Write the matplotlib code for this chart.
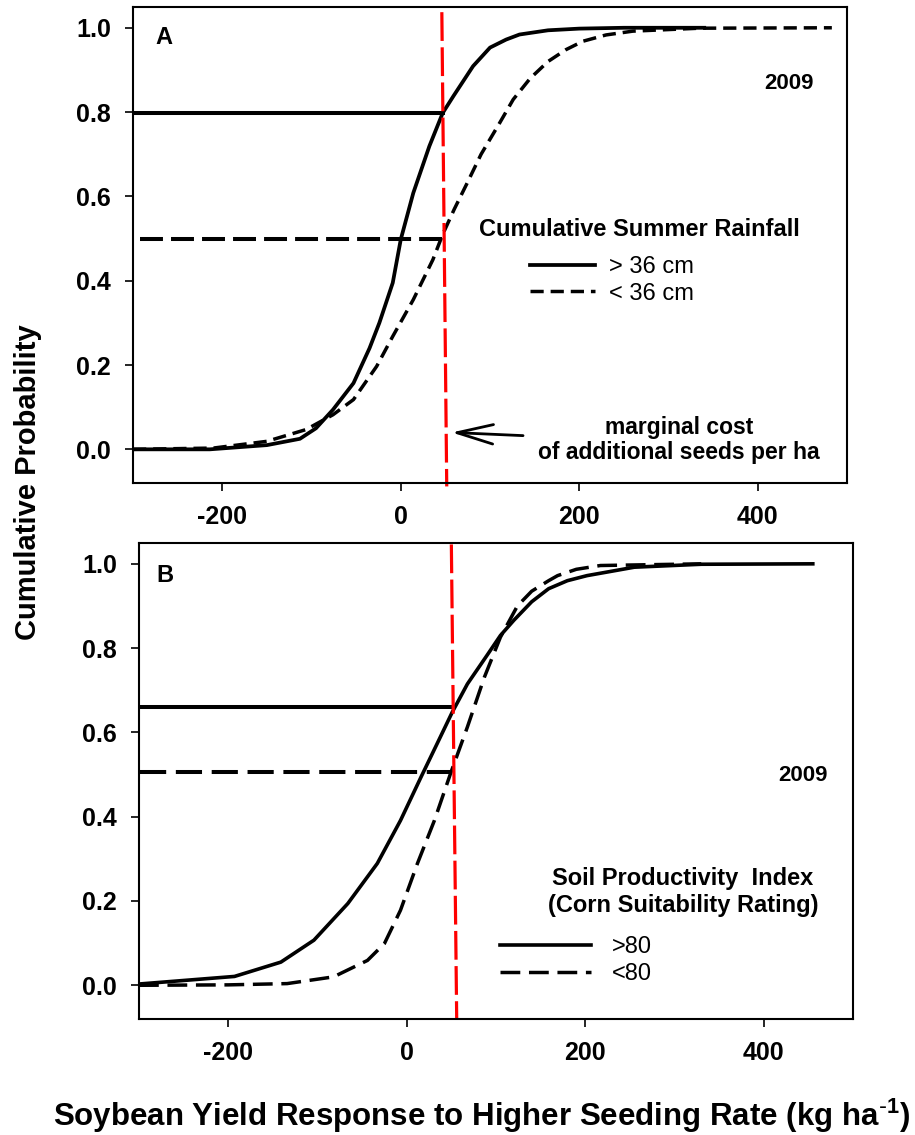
import matplotlib.pyplot as plt

plt.rcParams['font.family'] = ['Liberation Sans', 'DejaVu Sans']
plt.rcParams['mathtext.default'] = 'regular'

# ---- data ----
x_ticks = [-200, 0, 200, 400]
y_ticks = [0.0, 0.2, 0.4, 0.6, 0.8, 1.0]

# Panel A: cumulative summer rainfall
a_wet_x = [-300, -214, -150, -113, -95, -76, -53, -35, -24, -9, 0, 14, 32, 47, 59, 81, 100, 118, 133, 165, 200, 250, 340]
a_wet_y = [0.0, 0.0, 0.01, 0.025, 0.05, 0.094, 0.157, 0.24, 0.30, 0.395, 0.498, 0.608, 0.719, 0.798, 0.838, 0.909, 0.953, 0.972, 0.984, 0.994, 0.998, 1.0, 1.0]
a_dry_x = [-300, -210, -150, -106, -76, -53, -27, -9, 14, 36, 47, 60, 74, 90, 111, 126, 145, 165, 185, 204, 230, 260, 335, 483]
a_dry_y = [0.0, 0.003, 0.019, 0.047, 0.082, 0.118, 0.197, 0.268, 0.355, 0.45, 0.51, 0.57, 0.63, 0.70, 0.775, 0.83, 0.88, 0.92, 0.948, 0.968, 0.983, 0.992, 0.999, 1.0]
a_labels = ['> 36 cm', '< 36 cm']
a_ref_wet = ([-300, 47], [0.798, 0.798])
a_ref_dry = ([-292, 47], [0.50, 0.50])
a_cost = ([46, 51.5], [1.037, -0.088])

# Panel B: soil productivity index
b_high_x = [-300, -193, -141, -104, -66, -33, -7, 16, 34, 51, 68, 90, 105, 120, 140, 159, 180, 202, 255, 330, 455]
b_high_y = [0.003, 0.021, 0.055, 0.107, 0.194, 0.289, 0.391, 0.494, 0.573, 0.648, 0.715, 0.783, 0.83, 0.866, 0.91, 0.941, 0.96, 0.972, 0.992, 0.999, 1.0]
b_low_x = [-300, -200, -134, -82, -44, -25, -7, 12, 31, 49, 68, 87, 105, 124, 140, 159, 169, 190, 217, 330]
b_low_y = [0.0, 0.001, 0.004, 0.02, 0.059, 0.099, 0.178, 0.289, 0.391, 0.502, 0.613, 0.731, 0.826, 0.90, 0.935, 0.96, 0.972, 0.987, 0.996, 1.0]
b_labels = ['>80', '<80']
b_ref_high = ([-300, 51], [0.66, 0.66])
b_ref_low = ([-299, 49], [0.507, 0.507])
b_cost = ([50, 56], [1.046, -0.081])


def style_axis(ax):
    ax.set_xlim(-300, 500)
    ax.set_ylim(-0.08, 1.05)
    ax.set_xticks(x_ticks)
    ax.set_xticklabels([str(v) for v in x_ticks])
    ax.set_yticks(y_ticks)
    ax.set_yticklabels([f'{v:.1f}' for v in y_ticks])
    ax.tick_params(direction='out', length=6, width=1.2, labelsize=18, pad=10)
    for lab in ax.get_xticklabels() + ax.get_yticklabels():
        lab.set_fontweight('bold')
    for s in ax.spines.values():
        s.set_linewidth(1.5)


fig = plt.figure(figsize=(9.15, 11.35), dpi=100)
axA = fig.add_axes([0.1454, 0.5744, 0.7803, 0.4197])
axB = fig.add_axes([0.1519, 0.1022, 0.7803, 0.4196])

# ---- Panel A ----
axA.plot(*a_ref_wet, color='k', lw=2.9)
axA.plot(*a_ref_dry, color='k', lw=2.9, dashes=(5.7, 2.0))
wet, = axA.plot(a_wet_x, a_wet_y, color='k', lw=2.7, label=a_labels[0])
dry, = axA.plot(a_dry_x, a_dry_y, color='k', lw=2.5, dashes=(3.8, 2.0), label=a_labels[1])
axA.plot(*a_cost, color='red', lw=2.3, dashes=(9, 2), clip_on=False)
style_axis(axA)

axA.text(0.0427, 0.9343, 'A', transform=axA.transAxes, fontsize=17, fontweight='bold',
         ha='center', va='center')
axA.text(0.9188, 0.8398, '2009', transform=axA.transAxes, fontsize=16, fontweight='bold',
         ha='center', va='center')
axA.text(0.7094, 0.5333, 'Cumulative Summer Rainfall', transform=axA.transAxes, fontsize=17,
         fontweight='bold', ha='center', va='center')
axA.legend(handles=[wet, dry], loc='upper left', bbox_to_anchor=(0.556, 0.4766), frameon=False,
           fontsize=17, handlelength=2.75, handletextpad=0.6, labelspacing=0.2,
           borderpad=0, borderaxespad=0)
axA.text(312, 0.022, 'marginal cost\nof additional seeds per ha', fontsize=16.5, fontweight='bold',
         ha='center', va='center', linespacing=1.15)
axA.annotate('', xy=(57, 0.04), xytext=(137, 0.0325),
             arrowprops=dict(arrowstyle='->,head_length=1.3,head_width=0.35', lw=2, color='k',
                             mutation_scale=20, shrinkA=0, shrinkB=0))

# ---- Panel B ----
axB.plot(*b_ref_high, color='k', lw=2.9)
axB.plot(*b_ref_low, color='k', lw=2.9, dashes=(6.5, 2.4))
high, = axB.plot(b_high_x, b_high_y, color='k', lw=2.6, label=b_labels[0])
low, = axB.plot(b_low_x, b_low_y, color='k', lw=2.5, dashes=(5.7, 2.5), label=b_labels[1])
axB.plot(*b_cost, color='red', lw=2.3, dashes=(9, 2), clip_on=False)
style_axis(axB)

axB.text(0.0357, 0.9322, 'B', transform=axB.transAxes, fontsize=17, fontweight='bold',
         ha='center', va='center')
axB.text(0.9307, 0.5123, '2009', transform=axB.transAxes, fontsize=16, fontweight='bold',
         ha='center', va='center')
axB.text(0.7619, 0.2666, 'Soil Productivity  Index\n(Corn Suitability Rating)', transform=axB.transAxes,
         fontsize=17, fontweight='bold', ha='center', va='center')
axB.legend(handles=[high, low], loc='upper left', bbox_to_anchor=(0.5056, 0.174), frameon=False,
           fontsize=17, handlelength=3.86, handletextpad=0.9, labelspacing=0.2,
           borderpad=0, borderaxespad=0)

# ---- shared axis titles ----
fig.text(0.0311, 0.5753, 'Cumulative Probability', rotation=90, ha='center', va='center',
         fontsize=21, fontweight='bold')
fig.text(0.5257, 0.0079, 'Soybean Yield Response to Higher Seeding Rate (kg ha$^{\\text{-}1}$)',
         ha='center', va='baseline', fontsize=22.5, fontweight='bold')

fig.savefig('out.png', dpi=100)
